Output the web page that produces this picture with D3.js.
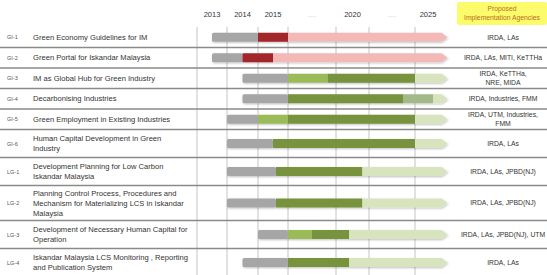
<!DOCTYPE html>
<html>
<head>
<meta charset="utf-8">
<script src="https://cdn.jsdelivr.net/npm/d3@7"></script>
<style>
  body { margin: 0; background: #fff; }
  text { font-family: "Liberation Sans", Arial, sans-serif; }
</style>
</head>
<body>
<div id="chart"></div>
<script>
// row codes, task names (one entry per line) and agencies
const codes = ["GI-1", "GI-2", "GI-3", "GI-4", "GI-5", "GI-6", "LG-1", "LG-2", "LG-3", "LG-4"];
const tasks = [
  ["Green Economy Guidelines for IM"],
  ["Green Portal for Iskandar Malaysia"],
  ["IM as Global Hub for Green Industry"],
  ["Decarbonising Industries"],
  ["Green Employment in Existing Industries"],
  ["Human Capital Development  in Green", "Industry"],
  ["Development Planning for Low Carbon", "Iskandar Malaysia"],
  ["Planning Control Process, Procedures and", "Mechanism for Materializing LCS in Iskandar", "Malaysia"],
  ["Development of Necessary Human Capital for", "Operation"],
  ["Iskandar Malaysia LCS Monitoring , Reporting", "and Publication System"]
];
const agencies = [
  ["IRDA, LAs"],
  ["IRDA, LAs, MITI, KeTTHa"],
  ["IRDA, KeTTHa,", "NRE, MIDA"],
  ["IRDA, Industries, FMM"],
  ["IRDA, UTM, Industries,", "FMM"],
  ["IRDA, LAs"],
  ["IRDA, LAs, JPBD(NJ)"],
  ["IRDA, LAs, JPBD(NJ)"],
  ["IRDA, LAs, JPBD(NJ), UTM"],
  ["IRDA, LAs"]
];

// timeline columns
const yearBreaks = [2013, 2014, 2015, 2016, 2020, 2021, 2025, 2026];
const yearLabels = ["2013", "2014", "2015", "....", "2020", "....", "2025"];
const agencyHeader = ["Proposed", "Implementation Agencies"];

// bar segments per row: [from, to, phase]
const segments = [
  [[2013.5, 2015, "prep"], [2015, 2016, "pilot"], [2016, 2026.25, "future"]],
  [[2013.5, 2014.5, "prep"], [2014.5, 2015.5, "pilot"], [2015.5, 2026.25, "future"]],
  [[2014.5, 2016, "prep"], [2016, 2019.3, "start"], [2019.3, 2025, "impl"], [2025, 2026.25, "cont"]],
  [[2014.5, 2016, "prep"], [2016, 2024, "impl"], [2024, 2025.7, "mid"], [2025.7, 2026.25, "cont"]],
  [[2014, 2015, "prep"], [2015, 2016, "start"], [2016, 2025, "impl"], [2025, 2026.25, "cont"]],
  [[2014, 2015.5, "prep"], [2015.5, 2025, "impl"], [2025, 2026.25, "cont"]],
  [[2014, 2015.6, "prep"], [2015.6, 2020.8, "impl"], [2020.8, 2026.25, "cont"]],
  [[2014, 2015.6, "prep"], [2015.6, 2020.8, "impl"], [2020.8, 2026.25, "cont"]],
  [[2015, 2016, "prep"], [2016, 2018, "start"], [2018, 2020.4, "impl"], [2020.4, 2026.25, "cont"]],
  [[2014.5, 2016, "prep"], [2016, 2020.4, "impl"], [2020.4, 2026.25, "cont"]]
];

const phaseColor = {
  prep: "#a6a6a6", pilot: "#a3282b", future: "#f3b9b9",
  start: "#9bbb59", impl: "#77933c", mid: "#a3b98a", cont: "#d7e4bd"
};

const W = 547, H = 275;
const top0 = 27;
const lineH = [0, 20.5, 28, 35];

const svg = d3.select("#chart").append("svg")
  .attr("width", W).attr("height", H);

const defs = svg.append("defs");
defs.append("filter").attr("id", "shadow")
  .attr("x", "-10%").attr("y", "-40%").attr("width", "130%").attr("height", "200%")
  .append("feDropShadow")
  .attr("dx", 0.8).attr("dy", 1).attr("stdDeviation", 0.8)
  .attr("flood-color", "#000").attr("flood-opacity", 0.25);

const x = d3.scaleLinear()
  .domain(yearBreaks)
  .range([197, 227, 258, 288, 336, 369, 415, 441]);

const heights = tasks.map(t => lineH[t.length]);
const bounds = [top0, ...d3.cumsum(heights).map(v => v + top0)];
const rows = codes.map((c, i) => ({
  code: c, task: tasks[i], agency: agencies[i], seg: segments[i],
  y0: bounds[i], y1: bounds[i + 1], cy: (bounds[i] + bounds[i + 1]) / 2
}));

// header
svg.append("g").selectAll("text")
  .data(yearLabels)
  .join("text")
  .attr("x", (d, i) => (x(yearBreaks[i]) + x(yearBreaks[i + 1])) / 2)
  .attr("y", 17)
  .attr("text-anchor", "middle")
  .attr("font-family", d => d === "...." ? null : "Liberation Serif, serif")
  .attr("font-size", d => d === "...." ? "8px" : "7.5px")
  .attr("fill", d => d === "...." ? "#c8c8c8" : "#333")
  .text(d => d);

svg.append("rect")
  .attr("x", 457).attr("y", 2).attr("width", 90).attr("height", 23)
  .attr("rx", 2)
  .attr("fill", "#fbfb6c");
svg.append("g").selectAll("text")
  .data(agencyHeader)
  .join("text")
  .attr("x", 502)
  .attr("y", (d, i) => 11 + i * 8.5)
  .attr("text-anchor", "middle")
  .attr("font-size", "6.8px")
  .attr("fill", "#b8701e")
  .text(d => d);

// vertical grid
svg.append("g").selectAll("line")
  .data(yearBreaks.slice(0, -1))
  .join("line")
  .attr("x1", d => x(d)).attr("x2", d => x(d))
  .attr("y1", top0).attr("y2", H)
  .attr("stroke", "#c4c4c4").attr("stroke-width", 1);

// row separators
svg.append("g").selectAll("line")
  .data(bounds.slice(1, -1))
  .join("line")
  .attr("x1", 0).attr("x2", W)
  .attr("y1", d => d).attr("y2", d => d)
  .attr("stroke", "#8a8a8a").attr("stroke-width", 1.5);

const row = svg.append("g").selectAll("g")
  .data(rows)
  .join("g");

row.append("text")
  .attr("x", 7).attr("y", d => d.cy + 2)
  .attr("font-size", "5.5px").attr("fill", "#555")
  .text(d => d.code);

row.append("text")
  .attr("font-size", "7.6px").attr("fill", "#333")
  .each(function (d) {
    const n = d.task.length;
    d3.select(this).selectAll("tspan")
      .data(d.task)
      .join("tspan")
      .attr("x", 33)
      .attr("y", (t, i) => d.cy + 2.7 + (i - (n - 1) / 2) * 10)
      .text(t => t);
  });

row.append("text")
  .attr("font-size", "6.8px").attr("fill", "#333")
  .attr("text-anchor", "middle")
  .each(function (d) {
    const n = d.agency.length;
    d3.select(this).selectAll("tspan")
      .data(d.agency)
      .join("tspan")
      .attr("x", 503)
      .attr("y", (t, i) => d.cy + 2.4 + (i - (n - 1) / 2) * 8.5)
      .text(t => t);
  });

// bars
const barH = 9, tip = 6;
row.each(function (d) {
  const g = d3.select(this).append("g").attr("filter", "url(#shadow)");
  const last = d.seg.length - 1;
  d.seg.forEach((s, i) => {
    const x0 = x(s[0]), x1 = x(s[1]);
    const t = d.cy - barH / 2, b = d.cy + barH / 2;
    if (i === last) {
      g.append("path")
        .attr("d", `M${x0},${t}L${x1 - tip},${t}L${x1},${d.cy}L${x1 - tip},${b}L${x0},${b}Z`)
        .attr("fill", phaseColor[s[2]]);
    } else {
      g.append("rect")
        .attr("x", x0).attr("y", t)
        .attr("width", x1 - x0).attr("height", barH)
        .attr("rx", s[2] === "prep" ? 1.5 : 0)
        .attr("fill", phaseColor[s[2]]);
    }
  });
});
</script>
</body>
</html>
